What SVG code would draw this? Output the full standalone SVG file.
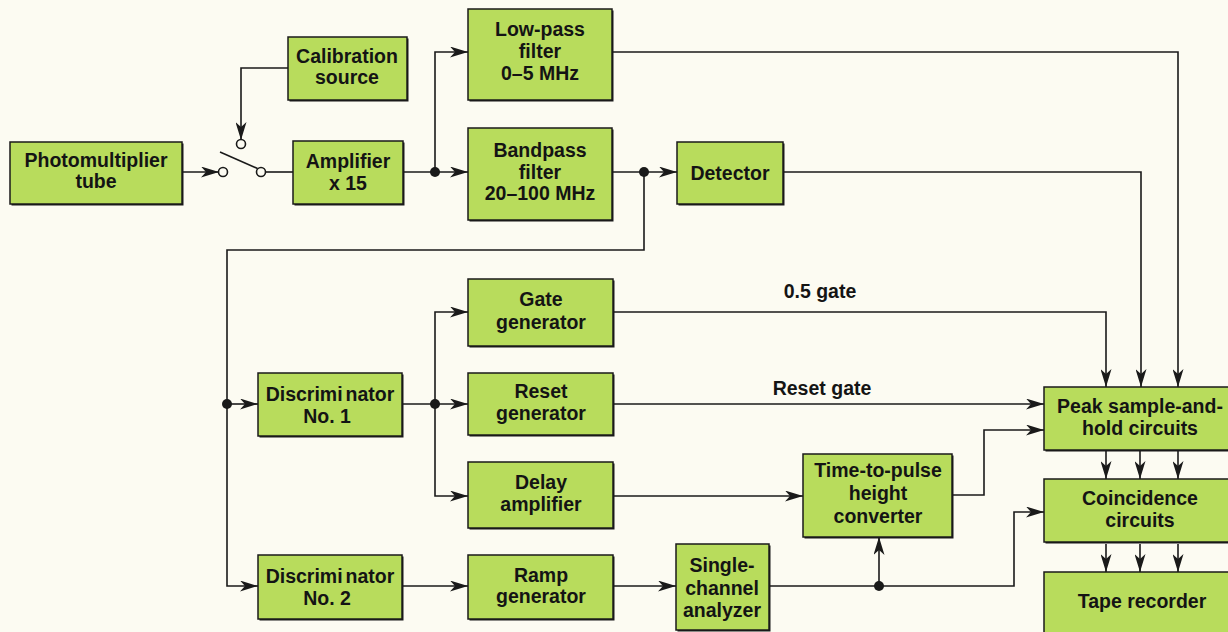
<svg xmlns="http://www.w3.org/2000/svg" width="1228" height="632" viewBox="0 0 1228 632">
<style>
.bg{fill:#fcfbf2}
.box{fill:#b8dc5c;stroke:#1a1a1a;stroke-width:1.5}
.sh{fill:#1a1a1a}
.t{font-family:"Liberation Sans",Arial,sans-serif;font-weight:bold;font-size:19.5px;fill:#141414;text-anchor:middle}
.ln{fill:none;stroke:#1a1a1a;stroke-width:1.6}
.arr{marker-end:url(#ah)}
.dot{fill:#1a1a1a}
.sw{fill:#fcfbf2;stroke:#1a1a1a;stroke-width:1.6}
</style>
<defs>
<marker id="ah" viewBox="0 0 18 11" refX="18" refY="5.5" markerWidth="18" markerHeight="11" markerUnits="userSpaceOnUse" orient="auto">
<path d="M0,0 L18,5.5 L0,11 L5,5.5 z" fill="#1a1a1a"/>
</marker>
</defs>
<rect class="bg" x="0" y="0" width="1228" height="632"/>

<g id="connectors">
<line class="ln arr" x1="182" y1="172" x2="219" y2="172"/>
<path class="ln arr" d="M288,68 H241 V140"/>
<line class="ln" x1="220" y1="152" x2="257.5" y2="168.5"/>
<line class="ln" x1="265" y1="172" x2="293" y2="172"/>
<line class="ln arr" x1="403" y1="172" x2="468" y2="172"/>
<path class="ln arr" d="M435,172 V52 H468"/>
<line class="ln arr" x1="612" y1="172" x2="677" y2="172"/>
<path class="ln arr" d="M644,172 V250 H227 V586 H258"/>
<line class="ln arr" x1="227" y1="404" x2="258" y2="404"/>
<line class="ln arr" x1="402" y1="404" x2="468" y2="404"/>
<path class="ln arr" d="M435,404 V312 H468"/>
<path class="ln arr" d="M435,404 V496 H468"/>
<line class="ln arr" x1="402" y1="586" x2="468" y2="586"/>
<line class="ln arr" x1="613" y1="586" x2="676" y2="586"/>
<path class="ln arr" d="M769,586 H1014 V512 H1044"/>
<line class="ln arr" x1="879" y1="586" x2="879" y2="537"/>
<line class="ln arr" x1="613" y1="496" x2="803" y2="496"/>
<path class="ln arr" d="M952,495 H984 V430 H1044"/>
<line class="ln arr" x1="613" y1="404" x2="1044" y2="404"/>
<path class="ln arr" d="M613,312 H1106 V387"/>
<path class="ln arr" d="M783,172 H1141 V387"/>
<path class="ln arr" d="M612,52 H1178 V387"/>
<line class="ln arr" x1="1106" y1="451" x2="1106" y2="479"/>
<line class="ln arr" x1="1140" y1="451" x2="1140" y2="479"/>
<line class="ln arr" x1="1178" y1="451" x2="1178" y2="479"/>
<line class="ln arr" x1="1106" y1="544" x2="1106" y2="572"/>
<line class="ln arr" x1="1140" y1="544" x2="1140" y2="572"/>
<line class="ln arr" x1="1178" y1="544" x2="1178" y2="572"/>
<circle class="sw" cx="223" cy="172" r="4.5"/>
<circle class="sw" cx="261" cy="172" r="4.5"/>
<circle class="sw" cx="241" cy="144" r="4.5"/>
<circle class="dot" cx="435" cy="172" r="5"/>
<circle class="dot" cx="644" cy="172" r="5"/>
<circle class="dot" cx="227" cy="404" r="5"/>
<circle class="dot" cx="435" cy="404" r="5"/>
<circle class="dot" cx="879" cy="586" r="5"/>
<text class="t" x="820" y="298">0.5 gate</text>
<text class="t" x="822" y="395">Reset gate</text>
</g>

<g id="pmt">
<rect class="sh" x="11.5" y="143.5" width="172" height="62"/>
<rect class="box" x="10" y="142" width="172" height="62"/>
<text class="t" x="96" y="167">Photomultiplier</text>
<text class="t" x="96" y="188">tube</text>
</g>
<g id="calibration">
<rect class="sh" x="289.5" y="38.5" width="119" height="63"/>
<rect class="box" x="288" y="37" width="119" height="63"/>
<text class="t" x="347" y="63">Calibration</text>
<text class="t" x="347" y="84">source</text>
</g>
<g id="amplifier">
<rect class="sh" x="294.5" y="142.5" width="110" height="63"/>
<rect class="box" x="293" y="141" width="110" height="63"/>
<text class="t" x="348" y="168">Amplifier</text>
<text class="t" x="348" y="190">x 15</text>
</g>
<g id="lowpass">
<rect class="sh" x="469.5" y="10.5" width="144" height="91"/>
<rect class="box" x="468" y="9" width="144" height="91"/>
<text class="t" x="540" y="36">Low-pass</text>
<text class="t" x="540" y="58">filter</text>
<text class="t" x="540" y="80">0–5 MHz</text>
</g>
<g id="bandpass">
<rect class="sh" x="469.5" y="129.5" width="144" height="92"/>
<rect class="box" x="468" y="128" width="144" height="92"/>
<text class="t" x="540" y="157">Bandpass</text>
<text class="t" x="540" y="179">filter</text>
<text class="t" x="540" y="200">20–100 MHz</text>
</g>
<g id="detector">
<rect class="sh" x="678.5" y="143.5" width="106" height="62"/>
<rect class="box" x="677" y="142" width="106" height="62"/>
<text class="t" x="730" y="180">Detector</text>
</g>
<g id="disc1">
<rect class="sh" x="259.5" y="374.5" width="144" height="63"/>
<rect class="box" x="258" y="373" width="144" height="63"/>
<text class="t" x="330" y="401">Discrimi<tspan dx="3">nator</tspan></text>
<text class="t" x="327" y="423">No. 1</text>
</g>
<g id="disc2">
<rect class="sh" x="259.5" y="556.5" width="144" height="64"/>
<rect class="box" x="258" y="555" width="144" height="64"/>
<text class="t" x="330" y="583">Discrimi<tspan dx="3">nator</tspan></text>
<text class="t" x="327" y="605">No. 2</text>
</g>
<g id="gategen">
<rect class="sh" x="469.5" y="280.5" width="145" height="67"/>
<rect class="box" x="468" y="279" width="145" height="67"/>
<text class="t" x="541" y="306">Gate</text>
<text class="t" x="541" y="329">generator</text>
</g>
<g id="resetgen">
<rect class="sh" x="469.5" y="374.5" width="145" height="62"/>
<rect class="box" x="468" y="373" width="145" height="62"/>
<text class="t" x="541" y="398">Reset</text>
<text class="t" x="541" y="420">generator</text>
</g>
<g id="delayamp">
<rect class="sh" x="469.5" y="463.5" width="145" height="66"/>
<rect class="box" x="468" y="462" width="145" height="66"/>
<text class="t" x="541" y="489">Delay</text>
<text class="t" x="541" y="511">amplifier</text>
</g>
<g id="rampgen">
<rect class="sh" x="469.5" y="556.5" width="145" height="64"/>
<rect class="box" x="468" y="555" width="145" height="64"/>
<text class="t" x="541" y="582">Ramp</text>
<text class="t" x="541" y="603">generator</text>
</g>
<g id="tpconv">
<rect class="sh" x="804.5" y="455.5" width="149" height="83"/>
<rect class="box" x="803" y="454" width="149" height="83"/>
<text class="t" x="878" y="477">Time-to-pulse</text>
<text class="t" x="878" y="500">height</text>
<text class="t" x="878" y="523">converter</text>
</g>
<g id="sca">
<rect class="sh" x="677.5" y="545.5" width="93" height="86"/>
<rect class="box" x="676" y="544" width="93" height="86"/>
<text class="t" x="722" y="572">Single-</text>
<text class="t" x="722" y="595">channel</text>
<text class="t" x="722" y="617">analyzer</text>
</g>
<g id="peak">
<rect class="sh" x="1045.5" y="388.5" width="200" height="63"/>
<rect class="box" x="1044" y="387" width="200" height="63"/>
<text class="t" x="1140" y="413">Peak sample-and-</text>
<text class="t" x="1140" y="435">hold circuits</text>
</g>
<g id="coincidence">
<rect class="sh" x="1045.5" y="480.5" width="200" height="63"/>
<rect class="box" x="1044" y="479" width="200" height="63"/>
<text class="t" x="1140" y="505">Coincidence</text>
<text class="t" x="1140" y="527">circuits</text>
</g>
<g id="tape">
<rect class="sh" x="1045.5" y="573.5" width="200" height="80"/>
<rect class="box" x="1044" y="572" width="200" height="80"/>
<text class="t" x="1142" y="608">Tape recorder</text>
</g>
</svg>
